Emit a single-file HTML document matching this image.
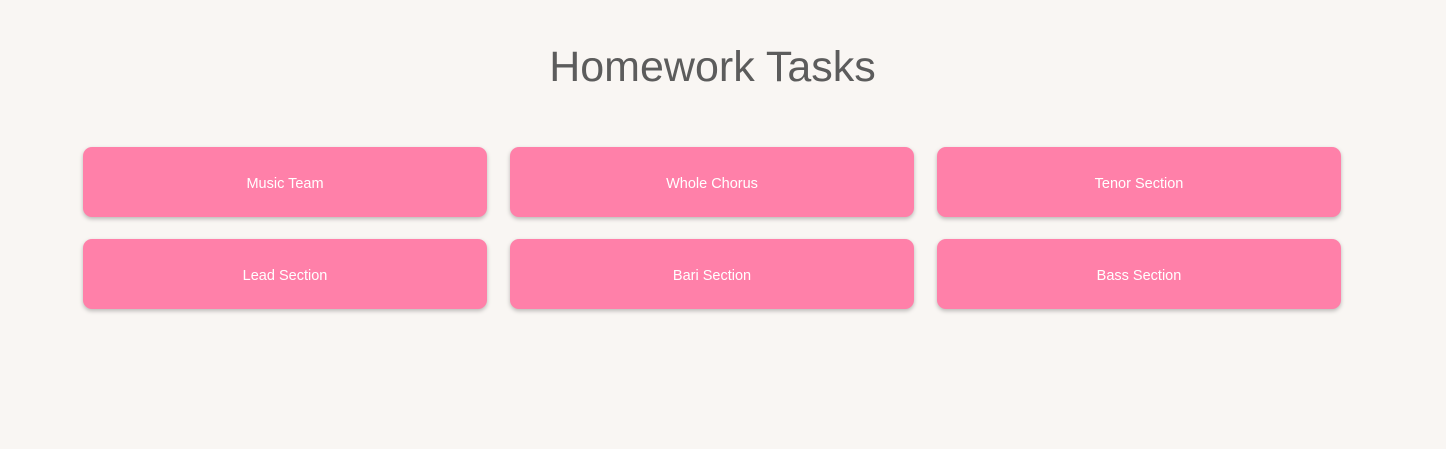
<!DOCTYPE html>
<html><head><style>
html,body{margin:0;padding:0;background:#f9f6f3;width:1446px;height:449px;overflow:hidden;font-family:"Liberation Sans",sans-serif;}
h1{position:absolute;left:0;width:1425px;top:39px;margin:0;text-align:center;font-weight:normal;font-size:43px;color:#5c5c5c;line-height:56px;}
.b{position:absolute;width:404px;height:70px;background:#ff80a9;border-radius:9px;box-shadow:0 2px 4px rgba(0,0,0,0.25);color:#fff;font-size:14.5px;display:flex;align-items:center;justify-content:center;box-sizing:border-box;padding-top:3px;}
</style></head><body>
<h1>Homework Tasks</h1>
<div class="b" style="left:83px;top:147px">Music Team</div>
<div class="b" style="left:510px;top:147px">Whole Chorus</div>
<div class="b" style="left:937px;top:147px">Tenor Section</div>
<div class="b" style="left:83px;top:239px">Lead Section</div>
<div class="b" style="left:510px;top:239px">Bari Section</div>
<div class="b" style="left:937px;top:239px">Bass Section</div>
</body></html>
